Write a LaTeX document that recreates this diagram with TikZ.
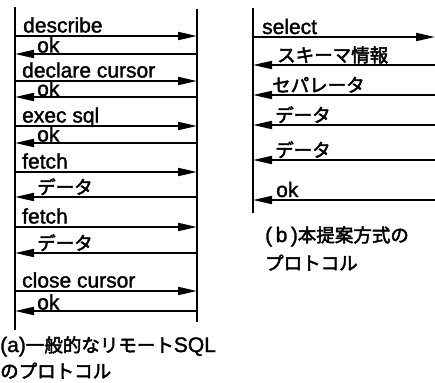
\documentclass[tikz,border=0pt]{standalone}
\usepackage{fontspec}
\setmainfont{Liberation Sans}
\newfontfamily\latf{Liberation Sans}[FakeBold=1.5]
\newfontfamily\jpf{Noto Sans CJK JP}[FakeBold=2.5]
\usetikzlibrary{arrows.meta}
\newcommand\Lt[1]{{\fontsize{21}{21}\selectfont\latf #1}}
\newcommand\Jp[1]{{\fontsize{18.5}{18.5}\selectfont\jpf #1}}
\begin{document}
\begin{tikzpicture}[x=1pt,y=-1pt,
  life/.style={line width=2.6pt},
  msg/.style={line width=2pt,-{Triangle[length=19pt,width=8pt]}},
  lbl/.style={anchor=base west,inner sep=0pt},
  captxt/.style={anchor=base west,inner sep=0pt}]
\useasboundingbox (0,0) rectangle (435,382);
% (a) lifelines
\coordinate (aL1) at (15,7); \coordinate (aL2) at (15,330);
\coordinate (aR1) at (197,9); \coordinate (aR2) at (197,322);
\draw[life] (aL1) -- (aL2);
\draw[life] (aR1) -- (aR2);
% (a) messages
\foreach \n/\y/\dir/\t/\tx/\dy in {1/36/r/{\Lt{describe}}/23/3.5, 2/54/l/{\Lt{ok}}/37/1.5, 3/81/r/{\Lt{declare cursor}}/22/3.5, 4/97/l/{\Lt{ok}}/37/1, 5/126/r/{\Lt{exec sql}}/22/3.5, 6/143/l/{\Lt{ok}}/37/1.5, 7/172/r/{\Lt{fetch}}/22/3.5, 8/197/l/{\Jp{データ}}/37/3, 9/227/r/{\Lt{fetch}}/22/3.5, 10/253/l/{\Jp{データ}}/37/3, 11/291/r/{\Lt{close cursor}}/22/3.5, 12/311/l/{\Lt{ok}}/37/1.5}{
  \coordinate (al\n) at (15,\y); \coordinate (ar\n) at (197,\y);
  \if r\dir \draw[msg] (al\n) -- (ar\n); \else \draw[msg] (ar\n) -- (al\n); \fi
  \node[lbl] (at\n) at (\tx,\y-\dy) {\t};
}
\node[captxt] (capa1) at (0,352) {\Lt{(a)}\Jp{一般的なリモート}\Lt{SQL}};
\node[captxt] (capa2) at (0,378) {\Jp{のプロトコル}};
% (b)
\coordinate (bL1) at (253,8); \coordinate (bL2) at (253,213);
\draw[life] (bL1) -- (bL2);
\foreach \n/\y/\dir/\t/\tx in {1/37/r/{\Lt{select}}/262, 2/65/l/{\Jp{スキーマ情報}}/277, 3/95/l/{\Jp{セパレータ}}/272, 4/125/l/{\Jp{データ}}/275, 5/160/l/{\Jp{データ}}/275, 6/200/l/{\Lt{ok}}/276}{
  \coordinate (bl\n) at (253,\y); \coordinate (br\n) at (435,\y);
  \if r\dir \draw[msg] (bl\n) -- (br\n); \else \draw[msg] (br\n) -- (bl\n); \fi
  \node[lbl] (bt\n) at (\tx,\y-3) {\t};
}
\node[captxt] (capb1) at (265,242) {\Lt{(\,b\,)}\Jp{本提案方式の}};
\node[captxt] (capb2) at (265,270) {\Jp{プロトコル}};
\end{tikzpicture}
\end{document}
